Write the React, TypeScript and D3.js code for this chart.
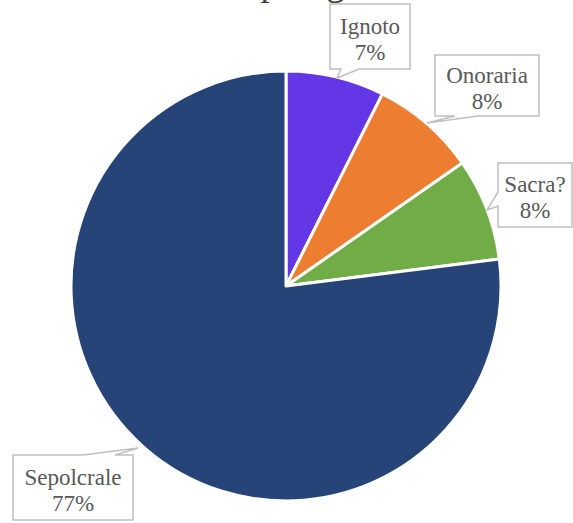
import React from "react";
import * as d3 from "d3";

const title = "Tipologia";
const categories = ["Ignoto", "Onoraria", "Sacra?", "Sepolcrale"];
const values = [7.4, 7.9, 7.7, 77.0];
const colors = ["#6337E6", "#ED7D31", "#70AD47", "#264478"];

// callout boxes: [x0, y0, x1, y1], pointer: side, base a, base b, tip
const boxes = [
  { x0: 330, y0: 4, x1: 410, y1: 69, side: "bottom", a: 341, b: 359, tip: [337, 78] },
  { x0: 435, y0: 55, x1: 539, y1: 116, side: "bottom", a: 455, b: 478, tip: [427, 123] },
  { x0: 498, y0: 163, x1: 572, y1: 227, side: "left", a: 192, b: 206, tip: [487, 210] },
  { x0: 13, y0: 455, x1: 133, y1: 520, side: "top", a: 83, b: 115, tip: [138, 448] },
];

function calloutPath(bx: any) {
  const { x0, y0, x1, y1, side, a, b, tip } = bx;
  const p = d3.path();
  p.moveTo(x0, y0);
  if (side === "top") {
    p.lineTo(a, y0);
    p.lineTo(tip[0], tip[1]);
    p.lineTo(b, y0);
  }
  p.lineTo(x1, y0);
  p.lineTo(x1, y1);
  if (side === "bottom") {
    p.lineTo(b, y1);
    p.lineTo(tip[0], tip[1]);
    p.lineTo(a, y1);
  }
  p.lineTo(x0, y1);
  if (side === "left") {
    p.lineTo(x0, b);
    p.lineTo(tip[0], tip[1]);
    p.lineTo(x0, a);
  }
  p.closePath();
  return p.toString();
}

export default function App() {
  const W = 573;
  const H = 523;
  const cx = 286;
  const cy = 286;
  const r = 215;
  const total = d3.sum(values);
  const pie = d3.pie<number>().sort(null).value((d) => d)(values);
  const arc = d3.arc<d3.PieArcDatum<number>>().innerRadius(0).outerRadius(r);
  const font = "'Liberation Serif', 'Times New Roman', serif";

  return (
    <svg
      width={W}
      height={H}
      style={{ position: "fixed", left: 0, top: 0, background: "#fff" }}
    >
      <text
        x={229}
        y={-5}
        fontFamily={font}
        fontSize={37}
        fill="#404040"
      >
        {title}
      </text>
      <g transform={`translate(${cx},${cy})`}>
        {pie.map((d, i) => (
          <path
            key={i}
            d={arc(d) as string}
            fill={colors[i]}
            stroke="#fff"
            strokeWidth={3}
            strokeLinejoin="round"
          />
        ))}
      </g>
      {boxes.map((bx, i) => {
        const mx = (bx.x0 + bx.x1) / 2;
        const my = (bx.y0 + bx.y1) / 2;
        const pct = Math.round((values[i] / total) * 100);
        return (
          <g key={i}>
            <path d={calloutPath(bx)} fill="#fff" stroke="#BFBFBF" strokeWidth={1.5} />
            <text
              x={mx}
              fontFamily={font}
              fontSize={23}
              fill="#595959"
              textAnchor="middle"
            >
              <tspan x={mx} y={my - 3}>
                {categories[i]}
              </tspan>
              <tspan x={mx} y={my + 23}>
                {pct}%
              </tspan>
            </text>
          </g>
        );
      })}
    </svg>
  );
}
